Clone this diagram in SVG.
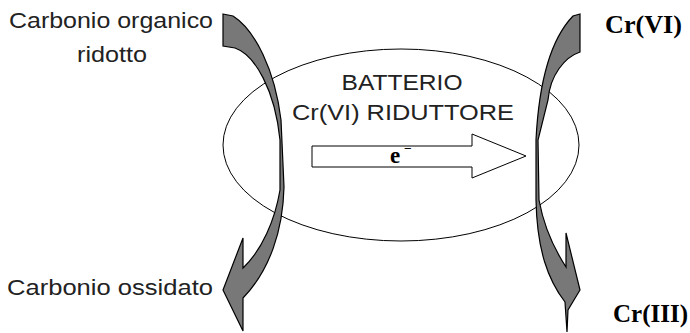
<svg xmlns="http://www.w3.org/2000/svg" width="690" height="333" viewBox="0 0 690 333">
<style>
.lbl{font-family:"Liberation Sans",Arial,sans-serif;font-size:21.5px;fill:#222}
.cr{font-family:"Liberation Serif","Times New Roman",serif;font-size:25px;font-weight:bold;fill:#000}
.bent{fill:#787878;stroke:#000;stroke-width:1.2;stroke-linejoin:miter}
</style>
<rect width="690" height="333" fill="#fff"/>
<g id="bacterium">
<ellipse cx="401" cy="145" rx="178" ry="96" fill="none" stroke="#000" stroke-width="1"/>
<text class="lbl" x="402" y="90" text-anchor="middle" textLength="121" lengthAdjust="spacingAndGlyphs">BATTERIO</text>
<text class="lbl" x="403" y="120" text-anchor="middle" textLength="222" lengthAdjust="spacingAndGlyphs">Cr(VI) RIDUTTORE</text>
</g>
<g id="connectors">
<path id="electron-arrow" d="M312,146 L472,146 L472,134 L526,156 L472,178 L472,167 L312,167 Z" fill="#fff" stroke="#000" stroke-width="1"/>
<path id="carbon-arrow" class="bent" d="M223,14 L233,16 C255,30 275,70 281,120 L284,187 C283,230 270,270 243,298 L243,331 L223,290 L243,238 L243,268 C262,250 275,220 280,190 L280,140 C275,90 255,55 235,48 L223,46 Z"/>
<path id="chromium-arrow" class="bent" d="M580,14 L580,52 C565,57 550,75 548,100 L538,140 L539,200 C543,222 553,247 566,267 L566,233 L580,290 L568,310 L567,332 L565,302 C548,280 537,250 536,200 L536,140 C538,100 545,45 573,16 Z"/>
</g>
<g id="electron-label">
<text x="390" y="163" font-family="Liberation Serif,serif" font-weight="bold" font-size="23" fill="#000">e</text>
<text x="404" y="153" font-family="Liberation Sans,sans-serif" font-size="13" fill="#000">−</text>
</g>
<g id="carbon-reduced">
<text class="lbl" x="111" y="28" text-anchor="middle" textLength="204" lengthAdjust="spacingAndGlyphs">Carbonio organico</text>
<text class="lbl" x="112" y="62" text-anchor="middle" textLength="70" lengthAdjust="spacingAndGlyphs">ridotto</text>
</g>
<g id="carbon-oxidized">
<text class="lbl" x="7" y="295" textLength="206" lengthAdjust="spacingAndGlyphs">Carbonio ossidato</text>
</g>
<g id="cr6">
<text class="cr" x="605" y="33" textLength="77" lengthAdjust="spacingAndGlyphs">Cr(VI)</text>
</g>
<g id="cr3">
<text class="cr" x="613" y="322" textLength="75" lengthAdjust="spacingAndGlyphs">Cr(III)</text>
</g>
</svg>
